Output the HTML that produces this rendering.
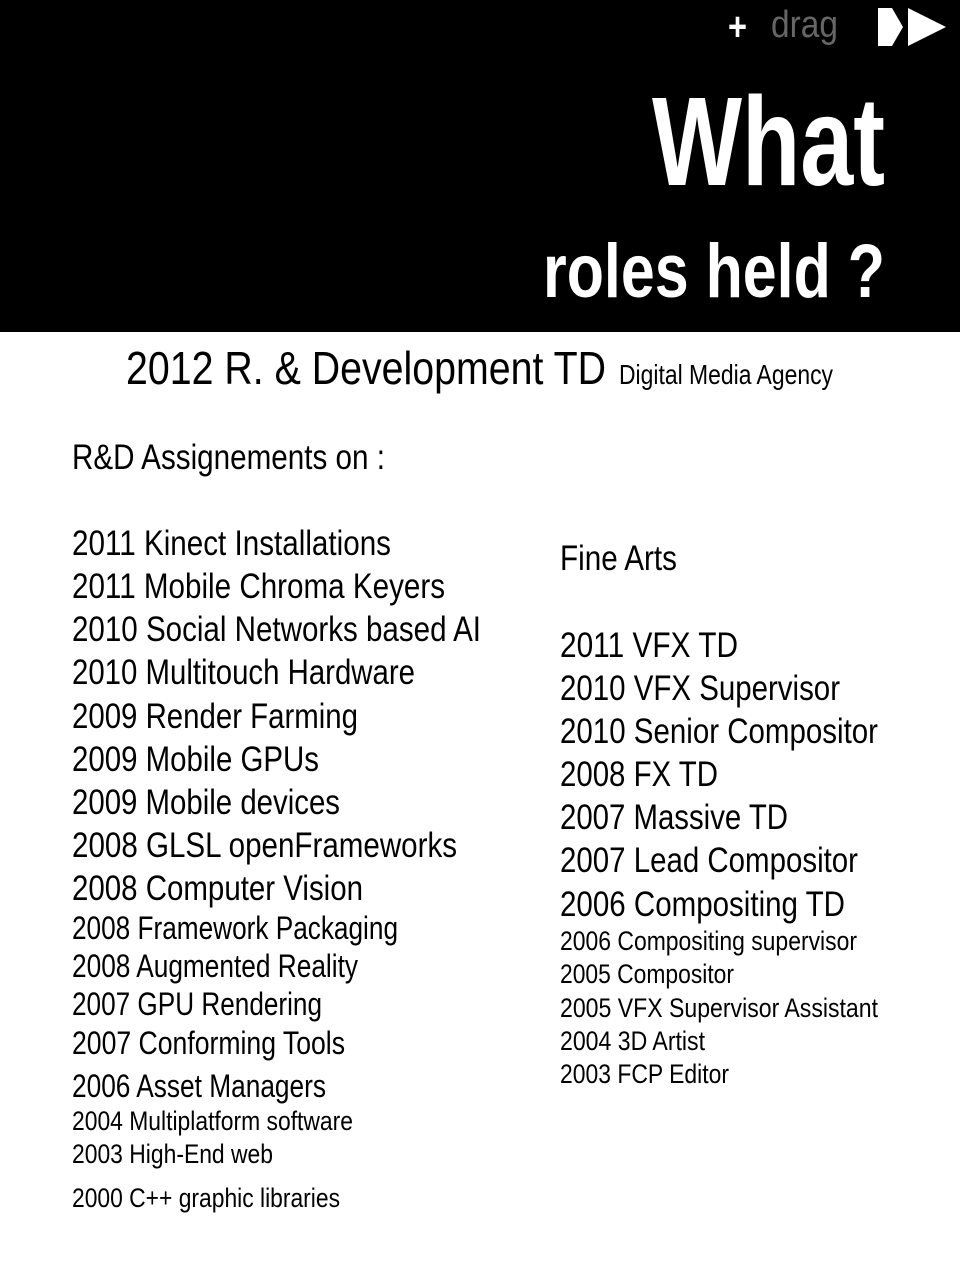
<!DOCTYPE html>
<html><head><meta charset="utf-8">
<style>
html,body{margin:0;padding:0;}
body{width:960px;height:1280px;position:relative;background:#fff;overflow:hidden;font-family:"Liberation Sans Narrow","Liberation Sans",sans-serif;}
#header{position:absolute;left:0;top:0;width:960px;height:332px;background:#000;}
.t{position:absolute;white-space:nowrap;transform-origin:0 50%;color:#000;}
.w{color:#fff;font-weight:bold;}
</style></head>
<body>
<div id="header"></div>
<div class="t" data-x="728" data-r="747" data-cy="27" data-fs="40" style="color:#fff;font-weight:bold">+</div>
<div class="t" data-x="771" data-r="838" data-cy="25" data-fs="38" style="color:#666">drag</div>
<svg style="position:absolute;left:876px;top:6px" width="74" height="42">
<polygon points="2,2 16,2 27,21 16,40 2,40" fill="#fff"/>
<polygon points="32,2 70,21 32,40" fill="#fff"/>
</svg>
<div class="t w" data-x="652" data-r="885" data-cy="142" data-fs="126">What</div>
<div class="t w" data-x="543" data-r="885" data-cy="272" data-fs="76">roles held ?</div>
<div class="t" data-x="126" data-r="606" data-cy="368" data-fs="46">2012 R. &amp; Development TD</div>
<div class="t" data-x="619" data-r="833" data-cy="375" data-fs="28">Digital Media Agency</div>
<div class="t" data-x="72" data-r="385" data-cy="457" data-fs="35">R&amp;D Assignements on :</div>
<div class="t" data-x="560" data-r="677" data-cy="558" data-fs="35">Fine Arts</div>
<script>
const leftItems=[
["2011 Kinect Installations",391,543,35],["2011 Mobile Chroma Keyers",445,586,35],["2010 Social Networks based AI",481,629,35],
["2010 Multitouch Hardware",415,672,35],["2009 Render Farming",358,716,35],["2009 Mobile GPUs",319,759,35],
["2009 Mobile devices",340,802,35],["2008 GLSL openFrameworks",457,845,35],["2008 Computer Vision",363,888,35],
["2008 Framework Packaging",398,928,32],["2008 Augmented Reality",358,966,32],["2007 GPU Rendering",322,1004,32],
["2007 Conforming Tools",345,1043,32],["2006 Asset Managers",326,1086,32],["2004 Multiplatform software",353,1121,27],
["2003 High-End web",273,1154,27],["2000 C++ graphic libraries",340,1198,27]];
const rightItems=[
["2011 VFX TD",738,645,35],["2010 VFX Supervisor",840,688,35],["2010 Senior Compositor",878,731,35],
["2008 FX TD",718,774,35],["2007 Massive TD",788,817,35],["2007 Lead Compositor",858,860,35],
["2006 Compositing TD",845,904,35],["2006 Compositing supervisor",857,941,27],["2005 Compositor",734,974,27],
["2005 VFX Supervisor Assistant",878,1008,27],["2004 3D Artist",705,1041,27],["2003 FCP Editor",729,1074,27]];
function add(list,x,prefix){
  list.forEach((it,i)=>{
    const d=document.createElement('div');
    d.className='t';
    d.textContent=it[0];
    
    
    d.dataset.x=x;d.dataset.r=it[1];d.dataset.cy=it[2];d.dataset.fs=it[3];
    document.body.appendChild(d);
  });
}
add(leftItems,72,'rd');
add(rightItems,560,'fine-arts');
document.querySelectorAll('.t').forEach(el=>{
  const fs=+el.dataset.fs,x=+el.dataset.x,r=+el.dataset.r,cy=+el.dataset.cy;
  el.style.fontSize=fs+'px';el.style.lineHeight=fs+'px';
  el.style.left=x+'px';el.style.top=(cy-fs*0.5)+'px';
  const w=el.getBoundingClientRect().width;
  if(w>0){el.style.transform='scaleX('+((r-x)/w)+')';}
});
</script>
</body></html>
